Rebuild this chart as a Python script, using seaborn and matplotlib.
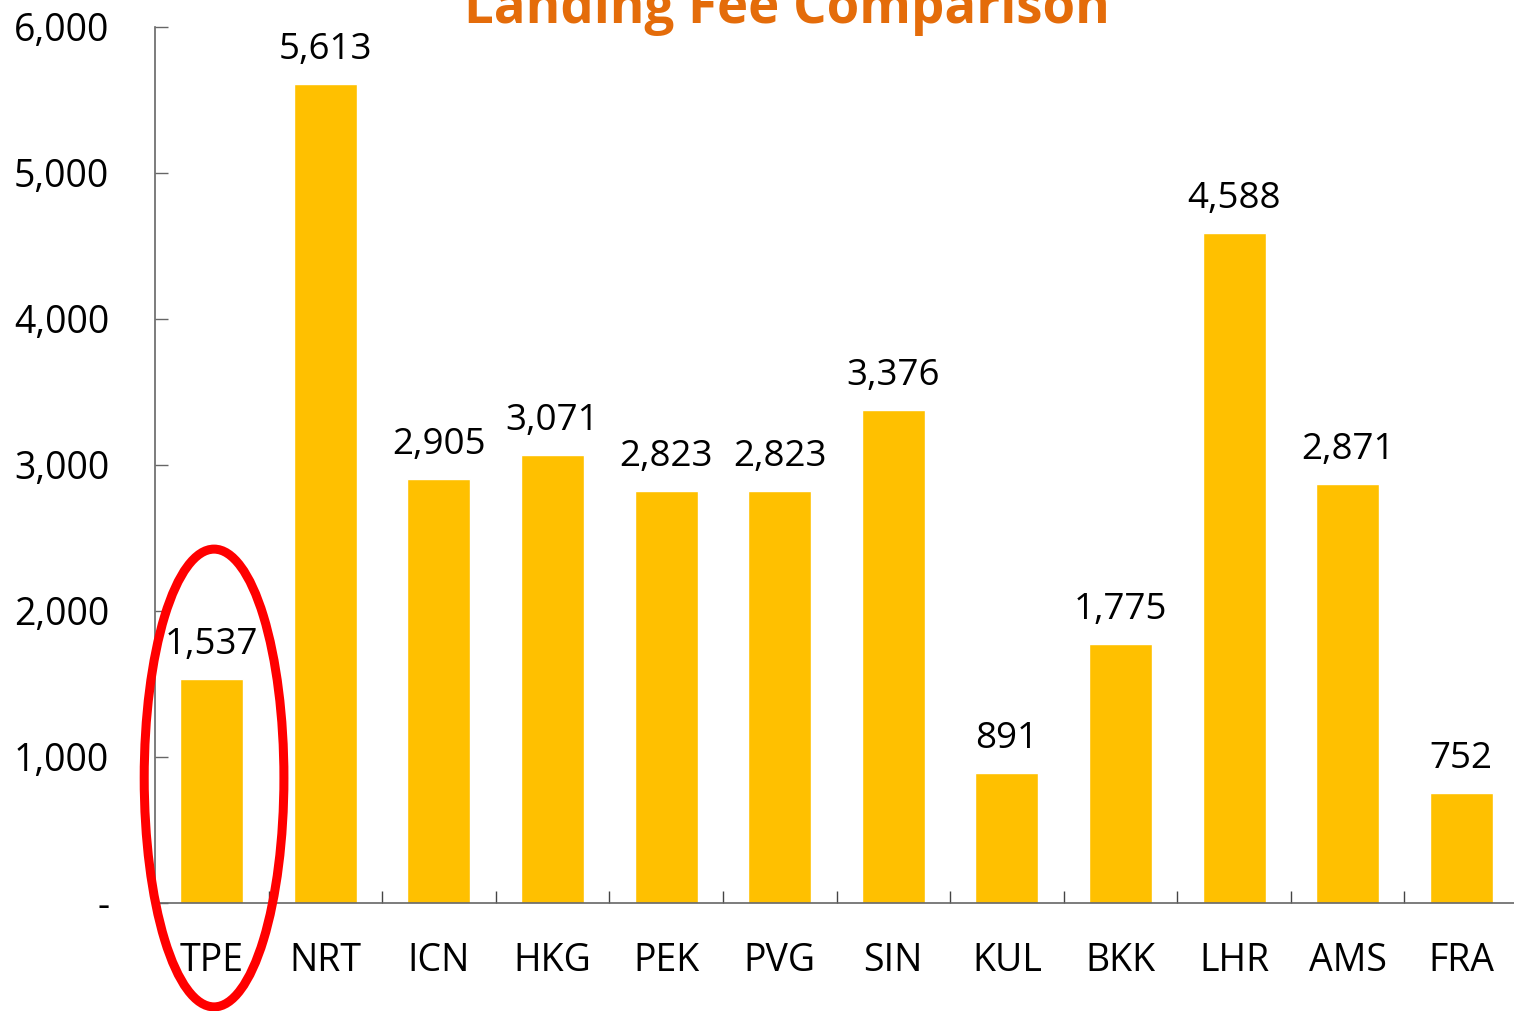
import matplotlib
matplotlib.use("Agg")
import matplotlib.pyplot as plt
from matplotlib.patches import Ellipse
from matplotlib.ticker import FuncFormatter, FixedLocator
import seaborn as sns
import pandas as pd

airports = ["TPE", "NRT", "ICN", "HKG", "PEK", "PVG", "SIN", "KUL", "BKK", "LHR", "AMS", "FRA"]
landing_fees = [1537, 5613, 2905, 3071, 2823, 2823, 3376, 891, 1775, 4588, 2871, 752]
y_ticks = [0, 1000, 2000, 3000, 4000, 5000, 6000]
highlight = "TPE"
title_text = "Landing Fee Comparison"

sns.set_theme(style="white")
plt.rcParams["font.family"] = ["Open Sans", "DejaVu Sans"]

df = pd.DataFrame({"airport": airports, "fee": landing_fees})

fig = plt.figure(figsize=(15.14, 10.11), dpi=100)
ax = fig.add_axes([155 / 1514, 1 - 903 / 1011, 1363 / 1514, 876 / 1011])

sns.barplot(data=df, x="airport", y="fee", color="#FFC000", saturation=1,
            width=0.555, ax=ax)

ax.set_xlim(-0.5, len(airports) - 0.5)
ax.set_ylim(y_ticks[0], y_ticks[-1])
ax.set_xlabel("")
ax.set_ylabel("")

# value labels above each bar
for i, v in enumerate(landing_fees):
    ax.annotate(f"{v:,}", (i, v), xytext=(0, 18), textcoords="offset points",
                ha="center", va="baseline", fontsize=26.5, color="black")

# axes styling
for side in ("top", "right"):
    ax.spines[side].set_visible(False)
for side in ("left", "bottom"):
    ax.spines[side].set_color("#666666")
    ax.spines[side].set_linewidth(1.2)

ax.yaxis.set_major_locator(FixedLocator(y_ticks))
ax.yaxis.set_major_formatter(FuncFormatter(lambda v, p: "-" if v == 0 else f"{int(v):,}"))
ax.tick_params(axis="y", direction="in", length=9, width=1, color="#666666",
               pad=33, labelsize=27, left=True)
ax.tick_params(axis="x", which="major", length=0, pad=28, labelsize=27)
ax.set_xticks([i + 0.5 for i in range(len(airports) - 1)], minor=True)
ax.tick_params(axis="x", which="minor", direction="in", length=9, width=1,
               color="#444444", bottom=True)
for lbl in ax.get_xticklabels() + ax.get_yticklabels():
    lbl.set_color("black")

# highlight ring around the home airport
hi = airports.index(highlight)
hv = landing_fees[hi]
ring = Ellipse((hi + 0.02, hv * 0.557), width=1.23, height=hv * 2.04,
               fill=False, edgecolor="#FF0000", linewidth=6.5, clip_on=False, zorder=5)
ax.add_patch(ring)

fig.text(0.52, 1 - 23 / 1011, title_text, ha="center", va="baseline",
         fontsize=38, fontweight="bold", color="#E46C0A")

fig.savefig("out.png", dpi=100)
